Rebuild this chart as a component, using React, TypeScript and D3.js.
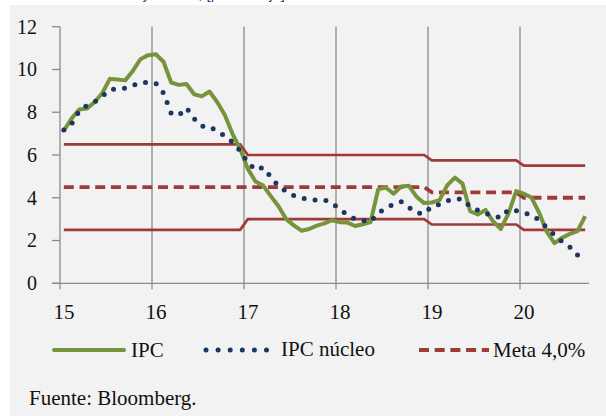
import React from "react";
import * as d3 from "d3";

// Monthly series, Jan 2015 onwards
const ipc: number[] = [
  7.14, 7.7, 8.13, 8.17, 8.47, 8.89, 9.56, 9.53, 9.49, 9.93, 10.48, 10.67,
  10.71, 10.36, 9.39, 9.28, 9.32, 8.84, 8.74, 8.97, 8.48, 7.87, 6.99, 6.29,
  5.35, 4.76, 4.57, 4.08, 3.6, 3.0, 2.71, 2.46, 2.54, 2.7, 2.8, 2.95,
  2.86, 2.84, 2.68, 2.76, 2.86, 4.39, 4.48, 4.19, 4.53, 4.56, 4.05, 3.75,
  3.78, 3.89, 4.58, 4.94, 4.66, 3.37, 3.22, 3.43, 2.89, 2.54, 3.27, 4.31,
  4.19, 4.01, 3.3, 2.4, 1.88, 2.13, 2.31, 2.44, 3.14,
];

const ipcNucleo: number[] = [
  7.17, 7.45, 8.05, 8.32, 8.48, 8.75, 9.05, 9.1, 9.12, 9.25, 9.38, 9.4,
  9.35, 8.9, 7.95, 7.85, 8.2, 7.7, 7.35, 7.34, 7.1, 6.9, 6.6, 6.2,
  5.65, 5.3, 5.42, 4.98, 4.55, 4.3, 4.1, 4.0, 3.9, 3.9, 3.9, 3.75,
  3.45, 3.2, 3.0, 2.93, 2.88, 3.3, 3.5, 3.7, 3.82, 3.55, 3.3, 3.25,
  3.6, 3.68, 3.85, 3.95, 3.94, 3.58, 3.42, 3.28, 3.14, 3.07, 3.45, 3.4,
  3.3, 3.2, 2.95, 2.6, 2.25, 1.95, 1.7, 1.32,
];

// Target (meta) and band per year 2015..2020
const metaYear: number[] = [4.5, 4.5, 4.5, 4.5, 4.25, 4.0];
const upperYear: number[] = [6.5, 6.5, 6.0, 6.0, 5.75, 5.5];
const lowerYear: number[] = [2.5, 2.5, 3.0, 3.0, 2.75, 2.5];

const yearLabels: string[] = ["15", "16", "17", "18", "19", "20"];
const yTicks: number[] = [0, 2, 4, 6, 8, 10, 12];

const legendItems: string[] = ["IPC", "IPC núcleo", "Meta 4,0%"];
const sourceText = "Fuente: Bloomberg.";
const titleText = "Inflación total y núcleo, [porcentaje]";

const TOTAL_MONTHS = 69;

const GREEN = "#77933c";
const NAVY = "#1b365f";
const RED = "#9e3a38";
const GRID = "#8a8a8a";
const FONT = "'Liberation Serif', 'Times New Roman', serif";

export default function App() {
  const x = d3.scaleLinear().domain([0, TOTAL_MONTHS]).range([60, 589]);
  const y = d3.scaleLinear().domain([0, 12]).range([283.3, 26.7]);

  const line = d3
    .line<number>()
    .x((_, i) => x(i + 0.5))
    .y((d) => y(d));

  const expand = (arr: number[]) =>
    d3.range(TOTAL_MONTHS).map((i) => arr[Math.floor(i / 12)]);

  const meta = expand(metaYear);
  const upper = expand(upperYear);
  const lower = expand(lowerYear);

  const yearTicks = yearLabels.map((_, k) => k * 12);
  const lastCore = ipcNucleo.length - 1;

  return (
    <svg
      width={606}
      height={416}
      style={{ position: "absolute", left: 0, top: 0, display: "block" }}
      fontFamily={FONT}
    >
      <rect x={0} y={0} width={606} height={416} fill="#ffffff" />
      <text
        x={285}
        y={-1}
        textAnchor="end"
        fontSize={15}
        fill="#1f497d"
        fontFamily="'Liberation Sans', Arial, sans-serif"
      >
        {titleText}
      </text>
      <rect x={10} y={5} width={596} height={411} fill="#f2f2f2" />

      {/* vertical gridlines */}
      {yearTicks.slice(1).map((m) => (
        <line
          key={"g" + m}
          x1={x(m)}
          x2={x(m)}
          y1={y(12)}
          y2={y(0)}
          stroke={GRID}
          strokeWidth={1.3}
        />
      ))}

      {/* axes */}
      <line x1={x(0)} x2={x(0)} y1={y(12)} y2={y(0)} stroke={GRID} strokeWidth={1.3} />
      <line x1={52} x2={x(TOTAL_MONTHS)} y1={y(0)} y2={y(0)} stroke={GRID} strokeWidth={1.3} />
      {yTicks.map((t) => (
        <g key={"y" + t}>
          <line x1={52} x2={x(0)} y1={y(t)} y2={y(t)} stroke={GRID} strokeWidth={1.3} />
          <text x={37} y={y(t)} dy="0.34em" textAnchor="end" fontSize={20} fill="#111">
            {t}
          </text>
        </g>
      ))}
      {yearTicks.map((m, k) => (
        <g key={"x" + m}>
          <line x1={x(m)} x2={x(m)} y1={y(0)} y2={y(0) + 6} stroke={GRID} strokeWidth={1.3} />
          <text x={x(m) + 4} y={319} textAnchor="middle" fontSize={21} fill="#111">
            {yearLabels[k]}
          </text>
        </g>
      ))}

      {/* band and target */}
      <path d={line(upper) || ""} fill="none" stroke={RED} strokeWidth={2.7} />
      <path d={line(lower) || ""} fill="none" stroke={RED} strokeWidth={2.7} />
      <path
        d={line(meta) || ""}
        fill="none"
        stroke={RED}
        strokeWidth={3.8}
        strokeDasharray="10 5.7"
      />

      {/* IPC */}
      <path
        d={line(ipc) || ""}
        fill="none"
        stroke={GREEN}
        strokeWidth={4}
        strokeLinejoin="round"
      />

      {/* IPC núcleo */}
      <path
        d={line(ipcNucleo) || ""}
        fill="none"
        stroke={NAVY}
        strokeWidth={5}
        strokeLinecap="round"
        strokeDasharray="0 11"
      />
      <circle cx={x(lastCore + 0.5)} cy={y(ipcNucleo[lastCore])} r={2.5} fill={NAVY} />

      {/* legend */}
      <line x1={54} x2={124} y1={350} y2={350} stroke={GREEN} strokeWidth={4} strokeLinecap="round" />
      <text x={131} y={357} fontSize={21} fill="#111">
        {legendItems[0]}
      </text>
      <line
        x1={206}
        x2={267}
        y1={350}
        y2={350}
        stroke={NAVY}
        strokeWidth={5}
        strokeLinecap="round"
        strokeDasharray="0 12.1"
      />
      <text x={281} y={356} fontSize={21} fill="#111">
        {legendItems[1]}
      </text>
      <line
        x1={419}
        x2={489}
        y1={350}
        y2={350}
        stroke={RED}
        strokeWidth={3.8}
        strokeDasharray="10 5.7"
      />
      <text x={493} y={357} fontSize={21} fill="#111">
        {legendItems[2]}
      </text>

      <text x={29} y={405} fontSize={21} fill="#111">
        {sourceText}
      </text>
    </svg>
  );
}
